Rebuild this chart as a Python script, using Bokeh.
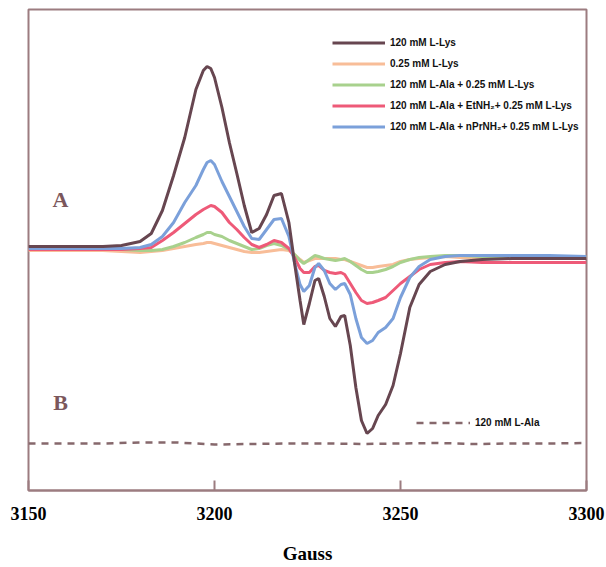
from bokeh.plotting import figure
from bokeh.models import Legend, LegendItem, Label, LinearAxis, FixedTicker, Range1d
from bokeh.embed import file_html
from bokeh.resources import INLINE

# ---------------- data (EPR spectra, arbitrary units) ----------------
gauss = [3150, 3160, 3170, 3175, 3180, 3183, 3186, 3189, 3192, 3195,
         3197, 3198, 3199, 3200, 3202, 3204, 3206, 3208, 3210, 3212, 3214, 3216,
         3218, 3220, 3221.5, 3223, 3224, 3225.5, 3227, 3228, 3229.5, 3231,
         3232.5, 3234, 3235, 3236.5, 3238, 3239.5, 3241, 3242.5, 3244, 3246,
         3248, 3250, 3252.5, 3255, 3258, 3262, 3266, 3272, 3280, 3290, 3300]

lys_120 = [1, 1, 1, 2, 6, 14, 37, 72, 110, 158,
           177, 181, 179, 170, 140, 105, 74, 42, 15, 19, 33, 52,
           54, 25, -15, -53, -77, -56, -33, -31, -49, -71,
           -79, -69, -68, -98, -140, -173, -186, -181, -168, -157,
           -138, -106, -60, -37, -24, -17, -14, -12, -11, -11, -11]

lys_025 = [-3, -3, -3, -4, -5, -4, -3, -1, 1, 3,
           4, 5, 5, 4, 2, 0, -2, -4, -5, -5, -4, -3,
           -2, -3, -7, -12, -15, -13, -11, -11, -11, -11,
           -11, -12, -12, -14, -16, -18, -20, -20, -19, -18,
           -17, -14, -12, -11, -10, -9, -10, -10, -10, -10, -10]

ala_lys = [-2, -2, -2, -2, -3, -3, -2, 1, 5, 10,
           13, 15, 15, 13, 11, 7, 4, 1, -2, -1, 2, 4,
           2, -2, -7, -13, -16, -12, -8, -9, -11, -12,
           -13, -12, -11, -14, -18, -22, -25, -25, -24, -22,
           -19, -15, -12, -10, -9, -8, -8, -9, -9, -9, -9]

ala_et_lys = [-2, -2, -2, -2, -1, 0, 7, 15, 24, 33,
              38, 40, 42, 41, 35, 25, 18, 10, 3, 0, 3, 7,
              5, -1, -10, -21, -25, -25, -19, -18, -23, -25,
              -26, -25, -27, -36, -45, -53, -56, -55, -53, -50,
              -43, -36, -29, -22, -17, -15, -14, -15, -15, -15, -15]

ala_pr_lys = [-1, -1, -1, -1, 0, 3, 11, 25, 45, 62,
              78, 85, 87, 83, 66, 51, 36, 21, 9, 8, 18, 28,
              29, 11, -15, -37, -44, -38, -20, -16, -23, -36,
              -42, -37, -36, -47, -71, -90, -96, -93, -85, -80,
              -71, -50, -30, -19, -12, -9, -8, -8, -8, -8, -9]

ala_gauss = [3150, 3160, 3170, 3180, 3190, 3200, 3210, 3220,
             3230, 3240, 3250, 3260, 3270, 3280, 3290, 3300]
ala_120 = [-196, -196, -196, -195, -195, -197, -196.5, -196,
           -196, -196.5, -196, -195.5, -196.5, -196, -196, -195.5]

x_ticks = [3150, 3200, 3250, 3300]
x_title = "Gauss"

labels = ["120 mM L-Lys", "0.25 mM L-Lys", "120 mM L-Ala + 0.25 mM L-Lys",
          "120 mM L-Ala + EtNH\u2082+ 0.25 mM L-Lys",
          "120 mM L-Ala + nPrNH\u2082+ 0.25 mM L-Lys"]
ala_label = "120 mM L-Ala"

# ---------------- styling ----------------
FRAME = "#9c7c80"
C_BROWN = "#674650"
C_ORANGE = "#f8bd98"
C_GREEN = "#a8d18d"
C_RED = "#ee5a78"
C_BLUE = "#7ba0da"
C_DASH = "#86686c"
C_LETTER = "#7b575c"

x_lo, x_hi = 3150, 3300
y_lo, y_hi = -243, 238

p = figure(width=606, height=567, title=None,
           x_range=Range1d(x_lo, x_hi), y_range=Range1d(y_lo, y_hi),
           output_backend="svg", toolbar_location=None,
           x_axis_location=None, y_axis_location=None,
           min_border_left=28, min_border_right=20,
           min_border_top=9, min_border_bottom=77)
p.outline_line_color = FRAME
p.outline_line_width = 2
p.background_fill_color = "white"
p.border_fill_color = "white"
p.grid.visible = False

ax = LinearAxis(ticker=FixedTicker(ticks=x_ticks), axis_label=x_title)
ax.axis_line_color = FRAME
ax.axis_line_width = 2
ax.major_tick_in = 10
ax.major_tick_out = 0
ax.major_tick_line_color = FRAME
ax.major_tick_line_width = 2
ax.minor_tick_line_color = None
ax.major_label_standoff = 16
ax.major_label_text_font = "Liberation Serif"
ax.major_label_text_font_style = "bold"
ax.major_label_text_font_size = "18px"
ax.major_label_text_color = "black"
ax.axis_label_standoff = 20
ax.axis_label_text_font = "Liberation Serif"
ax.axis_label_text_font_style = "bold"
ax.axis_label_text_font_size = "19px"
ax.axis_label_text_color = "black"
p.add_layout(ax, "below")

r_or = p.line(gauss, lys_025, line_color=C_ORANGE, line_width=3)
r_gr = p.line(gauss, ala_lys, line_color=C_GREEN, line_width=3)
r_rd = p.line(gauss, ala_et_lys, line_color=C_RED, line_width=3)
r_bl = p.line(gauss, ala_pr_lys, line_color=C_BLUE, line_width=3)
r_br = p.line(gauss, lys_120, line_color=C_BROWN, line_width=3)
r_ala = p.line(ala_gauss, ala_120, line_color=C_DASH, line_width=2.5,
               line_dash="7 6")

leg_common = dict(border_line_alpha=0, background_fill_alpha=0, padding=0,
                  margin=0, glyph_width=53, glyph_height=13, label_height=13,
                  label_standoff=5, label_text_font="Liberation Sans",
                  label_text_font_style="bold", label_text_font_size="10px",
                  label_text_color="#111111")

leg1 = Legend(items=[LegendItem(label=labels[0], renderers=[r_br]),
                     LegendItem(label=labels[1], renderers=[r_or]),
                     LegendItem(label=labels[2], renderers=[r_gr]),
                     LegendItem(label=labels[3], renderers=[r_rd]),
                     LegendItem(label=labels[4], renderers=[r_bl])],
              location=(304, 357), spacing=8, **leg_common)
p.add_layout(leg1)

leg2 = Legend(items=[LegendItem(label=ala_label, renderers=[r_ala])],
              location=(388, 61), spacing=0, **leg_common)
leg2.glyph_width = 54
p.add_layout(leg2)

for txt, yv in (("A", 48), ("B", -155)):
    p.add_layout(Label(x=3158.6, y=yv, text=txt, text_font="Liberation Serif",
                       text_font_style="bold", text_font_size="22px",
                       text_color=C_LETTER, text_align="center",
                       text_baseline="middle"))

open("out.html", "w").write(file_html(p, INLINE))
